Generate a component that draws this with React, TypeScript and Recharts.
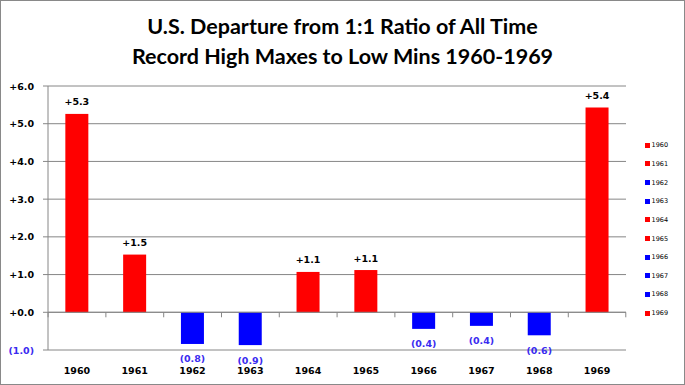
import React from "react";
import { BarChart, Bar, XAxis, YAxis, CartesianGrid, ReferenceLine, Cell, LabelList } from "recharts";

const years = ["1960", "1961", "1962", "1963", "1964", "1965", "1966", "1967", "1968", "1969"];
const departures = [5.26, 1.53, -0.84, -0.87, 1.07, 1.12, -0.44, -0.36, -0.61, 5.43];
const yTicks = [-1, 0, 1, 2, 3, 4, 5, 6];
const titleLines = ["U.S. Departure from 1:1 Ratio of All Time", "Record High Maxes to Low Mins 1960-1969"];

const RED = "#ff0000";
const BLUE = "#0000ff";
const NEG_TEXT = "#3a2cf0";
const GRID = "#868686";
const FONT = "DejaVu Sans, Verdana, sans-serif";

const data = years.map((y, i) => ({ year: y, value: departures[i] }));

const fmt = (v: number) => (v >= 0 ? "+" + v.toFixed(1) : "(" + Math.abs(v).toFixed(1) + ")");

const BarShape = (props: any) => {
  const { x, y, width, height, fill, index, payload } = props;
  const top = Math.min(y, y + height);
  const h = Math.abs(height);
  const v = payload ? payload.value : 0;
  const zero = v >= 0 ? top + h : top;
  const half = width * 1.25;
  const cx = x + width / 2;
  return (
    <g>
      <rect x={x} y={top} width={width} height={h} fill={fill} />
      <line x1={cx - half} x2={cx - half} y1={zero} y2={zero + 5} stroke={GRID} strokeWidth={1} />
      {index === data.length - 1 && (
        <line x1={cx + half} x2={cx + half} y1={zero} y2={zero + 5} stroke={GRID} strokeWidth={1} />
      )}
    </g>
  );
};

const BarLabel = (props: any) => {
  const { x, y, width, height, value } = props;
  const top = Math.min(y, y + height);
  const bottom = Math.max(y, y + height);
  const cx = x + width / 2;
  const pos = value >= 0;
  return (
    <text
      x={cx}
      y={pos ? top - 12 : bottom + 15}
      textAnchor="middle"
      dominantBaseline="central"
      fontFamily={FONT}
      fontWeight="bold"
      fontSize={9.5}
      fill={pos ? "#000" : NEG_TEXT}
    >
      {fmt(value)}
    </text>
  );
};

const YTick = (props: any) => {
  const { x, y, payload } = props;
  const v = payload.value;
  return (
    <text x={x} y={y} textAnchor="end" dominantBaseline="central" fontFamily={FONT} fontWeight="bold" fontSize={9.5} fill={v < 0 ? NEG_TEXT : "#000"}>
      {fmt(v)}
    </text>
  );
};

const XTick = (props: any) => {
  const { x, y, payload } = props;
  return (
    <text x={x} y={y + 12} textAnchor="middle" dominantBaseline="central" fontFamily={FONT} fontWeight="bold" fontSize={9.5} fill="#000">
      {payload.value}
    </text>
  );
};

export default function App() {
  return (
    <div
      style={{
        position: "absolute",
        left: 0,
        top: 0,
        width: 685,
        height: 385,
        boxSizing: "border-box",
        border: "1px solid #898989",
        background: "#fff",
        overflow: "hidden",
      }}
    >
      <svg width={685} height={80} style={{ position: "absolute", left: -1, top: -1 }}>
        {titleLines.map((t, i) => (
          <text key={i} x={342.5} y={34 + i * 30} textAnchor="middle" fontFamily="Lato, sans-serif" fontWeight="bold" fontSize={21.5} fill="#000">
            {t}
          </text>
        ))}
      </svg>
      <div style={{ position: "absolute", left: -1, top: -1 }}>
        <BarChart width={685} height={385} data={data} margin={{ top: 86, right: 59, bottom: 5, left: 0 }} barCategoryGap="30%">
          <CartesianGrid vertical={false} stroke={GRID} />
          <XAxis dataKey="year" axisLine={false} tickLine={false} height={30} tick={<XTick />} interval={0} />
          <YAxis
            domain={[-1, 6]}
            ticks={yTicks}
            width={48}
            axisLine={{ stroke: GRID }}
            tickLine={{ stroke: GRID }}
            tickSize={5}
            tickMargin={9}
            tick={<YTick />}
            interval={0}
          />
          <ReferenceLine y={0} stroke={GRID} />
          <Bar dataKey="value" isAnimationActive={false} shape={<BarShape />}>
            {data.map((d, i) => (
              <Cell key={i} fill={d.value >= 0 ? RED : BLUE} />
            ))}
            <LabelList dataKey="value" content={<BarLabel />} />
          </Bar>
        </BarChart>
      </div>
      {data.map((d, i) => (
        <div
          key={i}
          style={{
            position: "absolute",
            left: 644,
            top: 144.3 + i * 18.64 - 5,
            height: 10,
            display: "flex",
            alignItems: "center",
            fontFamily: FONT,
            fontSize: 6.5,
            color: "#000",
            whiteSpace: "nowrap",
          }}
        >
          <span style={{ display: "inline-block", width: 5, height: 5, background: d.value >= 0 ? RED : BLUE, marginRight: 1.5 }} />
          <span>{d.year}</span>
        </div>
      ))}
    </div>
  );
}
